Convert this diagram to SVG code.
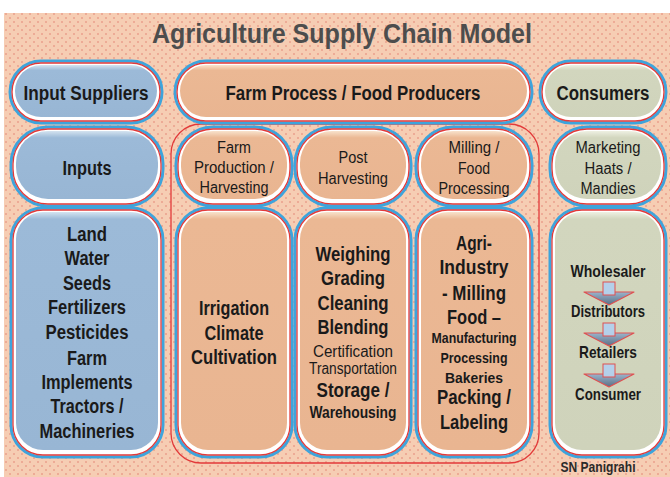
<svg xmlns="http://www.w3.org/2000/svg" width="670" height="477" viewBox="0 0 670 477">
<defs>
<pattern id="dots" width="8" height="8" patternUnits="userSpaceOnUse">
<rect width="8" height="8" fill="#f6cdb3"/>
<circle cx="2" cy="2" r="0.75" fill="#e0786a"/>
<circle cx="6" cy="6" r="0.75" fill="#e0786a"/>
</pattern>
<linearGradient id="gb" x1="0" y1="0" x2="0" y2="1"><stop offset="0" stop-color="#d4e3f0"/><stop offset="0.1" stop-color="#9cbad8"/><stop offset="1" stop-color="#98b6d4"/></linearGradient>
<linearGradient id="gp" x1="0" y1="0" x2="0" y2="1"><stop offset="0" stop-color="#f8e2cc"/><stop offset="0.1" stop-color="#ebb894"/><stop offset="1" stop-color="#e9b591"/></linearGradient>
<linearGradient id="gs" x1="0" y1="0" x2="0" y2="1"><stop offset="0" stop-color="#eef0e2"/><stop offset="0.1" stop-color="#d2d6be"/><stop offset="1" stop-color="#cfd3bb"/></linearGradient>
<linearGradient id="gbt" x1="0" y1="0" x2="0" y2="1"><stop offset="0" stop-color="#d4e3f0"/><stop offset="0.03" stop-color="#9cbad8"/><stop offset="1" stop-color="#98b6d4"/></linearGradient>
<linearGradient id="gpt" x1="0" y1="0" x2="0" y2="1"><stop offset="0" stop-color="#f8e2cc"/><stop offset="0.03" stop-color="#ebb894"/><stop offset="1" stop-color="#e9b591"/></linearGradient>
<linearGradient id="gst" x1="0" y1="0" x2="0" y2="1"><stop offset="0" stop-color="#eef0e2"/><stop offset="0.03" stop-color="#d2d6be"/><stop offset="1" stop-color="#cfd3bb"/></linearGradient>
<linearGradient id="ga" x1="0" y1="0" x2="0" y2="1"><stop offset="0" stop-color="#9ab4cc"/><stop offset="1" stop-color="#5a6e84"/></linearGradient>
<g id="arrow">
<polygon points="-25,10 25,10 0,23" fill="url(#ga)" stroke="#e05050" stroke-width="1.2" stroke-linejoin="round"/>
<rect x="-6" y="0" width="12" height="13" fill="#b4d0ea" stroke="#e05050" stroke-width="1"/>
</g>
</defs>
<style>
.bo{fill:#ffffff;stroke:#3ea4dc;stroke-width:3}
.br{fill:none;stroke:#e23a3a;stroke-width:1.3}
text{font-family:"Liberation Sans Narrow","Liberation Sans",Arial,sans-serif;text-anchor:middle;fill:#1a1a1a;lengthAdjust:spacingAndGlyphs}
.b{font-weight:bold;font-size:20px}
.n{font-weight:normal;font-size:16px}
.s{font-weight:bold;font-size:17px}
</style>
<rect x="0" y="0" width="670" height="477" fill="#ffffff"/>
<rect x="4" y="13" width="666" height="464" fill="url(#dots)"/>
<text x="342" y="43" font-size="27" font-weight="bold" fill="#4d4d4d" style="fill:#4d4d4d" textLength="380" lengthAdjust="spacingAndGlyphs">Agriculture Supply Chain Model</text>

<g id="connectors">
<rect x="171" y="124" width="368" height="339" rx="30" fill="none" stroke="#e23a3a" stroke-width="1.3"/>
</g>

<g id="input-suppliers">
<rect class="bo" x="10" y="61" width="152" height="62" rx="31"/>
<rect class="br" x="12" y="63" width="148" height="58" rx="29"/>
<rect x="15" y="65" width="142" height="52" rx="26" fill="url(#gb)"/>
<text class="b" x="86" y="100" textLength="125" lengthAdjust="spacingAndGlyphs">Input Suppliers</text>
</g>
<g id="farm-process">
<rect class="bo" x="175" y="61" width="357" height="62" rx="31"/>
<rect class="br" x="177" y="63" width="353" height="58" rx="29"/>
<rect x="180" y="65" width="347" height="52" rx="26" fill="url(#gp)"/>
<text class="b" x="353" y="100" textLength="255" lengthAdjust="spacingAndGlyphs">Farm Process / Food Producers</text>
</g>
<g id="consumers">
<rect class="bo" x="540" y="61" width="126" height="62" rx="31"/>
<rect class="br" x="542" y="63" width="122" height="58" rx="29"/>
<rect x="545" y="65" width="116" height="52" rx="26" fill="url(#gs)"/>
<text class="b" x="603" y="100" textLength="93" lengthAdjust="spacingAndGlyphs">Consumers</text>
</g>

<g id="inputs">
<rect class="bo" x="11" y="127" width="152" height="79" rx="37"/>
<rect class="br" x="13" y="129" width="148" height="75" rx="35"/>
<rect x="16" y="131" width="142" height="68" rx="32" fill="url(#gb)"/>
<text class="b" x="87" y="175" textLength="49" lengthAdjust="spacingAndGlyphs">Inputs</text>
</g>
<g id="farm-production">
<rect class="bo" x="176" y="127" width="116" height="79" rx="37"/>
<rect class="br" x="178" y="129" width="112" height="75" rx="35"/>
<rect x="181" y="131" width="106" height="68" rx="32" fill="url(#gp)"/>
<text class="n" x="234" y="153" textLength="34" lengthAdjust="spacingAndGlyphs">Farm</text>
<text class="n" x="234" y="173" textLength="80" lengthAdjust="spacingAndGlyphs">Production /</text>
<text class="n" x="234" y="193" textLength="69" lengthAdjust="spacingAndGlyphs">Harvesting</text>
</g>
<g id="post-harvesting">
<rect class="bo" x="295" y="127" width="116" height="79" rx="37"/>
<rect class="br" x="297" y="129" width="112" height="75" rx="35"/>
<rect x="300" y="131" width="106" height="68" rx="32" fill="url(#gp)"/>
<text class="n" x="353" y="163" textLength="29" lengthAdjust="spacingAndGlyphs">Post</text>
<text class="n" x="353" y="184" textLength="70" lengthAdjust="spacingAndGlyphs">Harvesting</text>
</g>
<g id="milling-food-processing">
<rect class="bo" x="416" y="127" width="116" height="79" rx="37"/>
<rect class="br" x="418" y="129" width="112" height="75" rx="35"/>
<rect x="421" y="131" width="106" height="68" rx="32" fill="url(#gp)"/>
<text class="n" x="474" y="153" textLength="51" lengthAdjust="spacingAndGlyphs">Milling /</text>
<text class="n" x="474" y="174" textLength="32" lengthAdjust="spacingAndGlyphs">Food</text>
<text class="n" x="474" y="194" textLength="71" lengthAdjust="spacingAndGlyphs">Processing</text>
</g>
<g id="marketing">
<rect class="bo" x="550" y="127" width="116" height="79" rx="37"/>
<rect class="br" x="552" y="129" width="112" height="75" rx="35"/>
<rect x="555" y="131" width="106" height="68" rx="32" fill="url(#gs)"/>
<text class="n" x="608" y="153" textLength="65" lengthAdjust="spacingAndGlyphs">Marketing</text>
<text class="n" x="608" y="174" textLength="47" lengthAdjust="spacingAndGlyphs">Haats /</text>
<text class="n" x="608" y="194" textLength="55" lengthAdjust="spacingAndGlyphs">Mandies</text>
</g>

<g id="input-list">
<rect class="bo" x="11" y="208" width="152" height="249" rx="32"/>
<rect class="br" x="13" y="210" width="148" height="245" rx="30"/>
<rect x="16" y="212" width="142" height="238" rx="27" fill="url(#gbt)"/>
<text class="b" x="87" y="241" textLength="40" lengthAdjust="spacingAndGlyphs">Land</text>
<text class="b" x="87" y="265" textLength="45" lengthAdjust="spacingAndGlyphs">Water</text>
<text class="b" x="87" y="290" textLength="48" lengthAdjust="spacingAndGlyphs">Seeds</text>
<text class="b" x="87" y="314" textLength="78" lengthAdjust="spacingAndGlyphs">Fertilizers</text>
<text class="b" x="87" y="339" textLength="83" lengthAdjust="spacingAndGlyphs">Pesticides</text>
<text class="b" x="87" y="365" textLength="40" lengthAdjust="spacingAndGlyphs">Farm</text>
<text class="b" x="87" y="389" textLength="91" lengthAdjust="spacingAndGlyphs">Implements</text>
<text class="b" x="87" y="413" textLength="73" lengthAdjust="spacingAndGlyphs">Tractors /</text>
<text class="b" x="87" y="438" textLength="95" lengthAdjust="spacingAndGlyphs">Machineries</text>
</g>
<g id="irrigation">
<rect class="bo" x="176" y="208" width="116" height="249" rx="32"/>
<rect class="br" x="178" y="210" width="112" height="245" rx="30"/>
<rect x="181" y="212" width="106" height="238" rx="27" fill="url(#gpt)"/>
<text class="b" x="234" y="315" textLength="70" lengthAdjust="spacingAndGlyphs">Irrigation</text>
<text class="b" x="234" y="340" textLength="59" lengthAdjust="spacingAndGlyphs">Climate</text>
<text class="b" x="234" y="364" textLength="86" lengthAdjust="spacingAndGlyphs">Cultivation</text>
</g>
<g id="weighing">
<rect class="bo" x="295" y="208" width="116" height="249" rx="32"/>
<rect class="br" x="297" y="210" width="112" height="245" rx="30"/>
<rect x="300" y="212" width="106" height="238" rx="27" fill="url(#gpt)"/>
<text class="b" x="353" y="261" textLength="75" lengthAdjust="spacingAndGlyphs">Weighing</text>
<text class="b" x="353" y="285" textLength="64" lengthAdjust="spacingAndGlyphs">Grading</text>
<text class="b" x="353" y="310" textLength="71" lengthAdjust="spacingAndGlyphs">Cleaning</text>
<text class="b" x="353" y="334" textLength="71" lengthAdjust="spacingAndGlyphs">Blending</text>
<text class="n" x="353" y="357" font-size="15" textLength="80" lengthAdjust="spacingAndGlyphs">Certification</text>
<text class="n" x="353" y="374" font-size="14" textLength="88" lengthAdjust="spacingAndGlyphs">Transportation</text>
<text class="b" x="353" y="397" textLength="73" lengthAdjust="spacingAndGlyphs">Storage /</text>
<text class="b" x="353" y="418" style="font-size:16px" textLength="87" lengthAdjust="spacingAndGlyphs">Warehousing</text>
</g>
<g id="agri-industry">
<rect class="bo" x="416" y="208" width="116" height="249" rx="32"/>
<rect class="br" x="418" y="210" width="112" height="245" rx="30"/>
<rect x="421" y="212" width="106" height="238" rx="27" fill="url(#gpt)"/>
<text class="b" x="474" y="250" textLength="36" lengthAdjust="spacingAndGlyphs">Agri-</text>
<text class="b" x="474" y="274" textLength="69" lengthAdjust="spacingAndGlyphs">Industry</text>
<text class="b" x="474" y="300" textLength="64" lengthAdjust="spacingAndGlyphs">- Milling</text>
<text class="b" x="474" y="324" textLength="54" lengthAdjust="spacingAndGlyphs">Food –</text>
<text class="b" x="474" y="343" style="font-size:14px" textLength="85" lengthAdjust="spacingAndGlyphs">Manufacturing</text>
<text class="b" x="474" y="363" style="font-size:15px" textLength="67" lengthAdjust="spacingAndGlyphs">Processing</text>
<text class="b" x="474" y="383" style="font-size:15px" textLength="58" lengthAdjust="spacingAndGlyphs">Bakeries</text>
<text class="b" x="474" y="404" textLength="74" lengthAdjust="spacingAndGlyphs">Packing /</text>
<text class="b" x="474" y="429" textLength="68" lengthAdjust="spacingAndGlyphs">Labeling</text>
</g>
<g id="distribution">
<rect class="bo" x="550" y="208" width="116" height="249" rx="32"/>
<rect class="br" x="552" y="210" width="112" height="245" rx="30"/>
<rect x="555" y="212" width="106" height="238" rx="27" fill="url(#gst)"/>
<text class="s" x="608" y="277" textLength="75" lengthAdjust="spacingAndGlyphs">Wholesaler</text>
<use href="#arrow" x="609" y="282"/>
<text class="s" x="608" y="317" textLength="74" lengthAdjust="spacingAndGlyphs">Distributors</text>
<use href="#arrow" x="609" y="323"/>
<text class="s" x="608" y="358" textLength="58" lengthAdjust="spacingAndGlyphs">Retailers</text>
<use href="#arrow" x="609" y="364"/>
<text class="s" x="608" y="400" textLength="66" lengthAdjust="spacingAndGlyphs">Consumer</text>
</g>
<text x="598" y="472" font-size="14" font-weight="bold" style="fill:#2a2a2a" textLength="75" lengthAdjust="spacingAndGlyphs">SN Panigrahi</text>
</svg>
